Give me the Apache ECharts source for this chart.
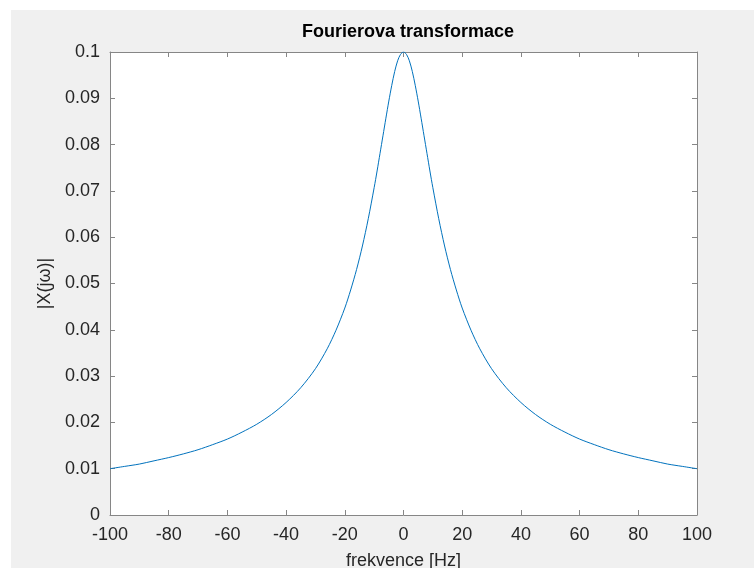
<!DOCTYPE html>
<html>
<head>
<meta charset="utf-8">
<script src="https://cdn.jsdelivr.net/npm/echarts@6/dist/echarts.min.js"></script>
<style>
html,body{margin:0;padding:0;background:#fff;}
#c{width:754px;height:568px;}
</style>
</head>
<body>
<div id="c"></div>
<script>
// frequency [Hz] and |X(jw)|
const freqs = [-100,-95,-90,-85,-80,-75,-70,-65,-60,-55,-50,-45,-40,-35,-30,-26,-23,-20,-18,-16,-14,-12,-10,-9,-8,-7,-6,-5,-4,-3,-2,-1,0,
  1,2,3,4,5,6,7,8,9,10,12,14,16,18,20,23,26,30,35,40,45,50,55,60,65,70,75,80,85,90,95,100];
const magnitude = [0.0100,0.0105,0.0110,0.0117,0.0124,0.0132,0.0141,0.0152,0.0164,0.0179,0.0196,0.0217,0.0243,0.0275,0.0316,0.0359,0.0399,0.0447,0.0486,0.0530,0.0581,0.0640,0.0707,0.0743,0.0781,0.0819,0.0857,0.0894,0.0928,0.0958,0.0981,0.0995,0.1000,
  0.0995,0.0981,0.0958,0.0928,0.0894,0.0857,0.0819,0.0781,0.0743,0.0707,0.0640,0.0581,0.0530,0.0486,0.0447,0.0399,0.0359,0.0316,0.0275,0.0243,0.0217,0.0196,0.0179,0.0164,0.0152,0.0141,0.0132,0.0124,0.0117,0.0110,0.0105,0.0100];
const xTicks = [-100,-80,-60,-40,-20,0,20,40,60,80,100];
const yTicks = [0,0.01,0.02,0.03,0.04,0.05,0.06,0.07,0.08,0.09,0.1];
const titleText = 'Fourierova transformace';
const xName = 'frekvence [Hz]';
const yName = '|X(jω)|';

const FONT = '"Liberation Sans", Arial, Helvetica, sans-serif';
const axisCol = '#868686';
const textCol = '#262626';

const chart = echarts.init(document.getElementById('c'), null, {renderer:'canvas'});
const common = {
  axisLine:{show:true, onZero:false, lineStyle:{color:axisCol, width:1}},
  axisTick:{show:true, inside:true, length:5, lineStyle:{color:axisCol}},
  splitLine:{show:false}
};
chart.setOption({
  backgroundColor:'#ffffff',
  animation:false,
  graphic:[{type:'rect', z:-100, silent:true, shape:{x:11,y:10,width:743,height:558}, style:{fill:'#f0f0f0'}}],
  title:{text:titleText, left:403, top:18, textAlign:'center',
    textStyle:{fontFamily:FONT, fontSize:18, fontWeight:'bold', color:'#000'}},
  grid:{left:110, right:57, top:52, bottom:53, containLabel:false, outerBoundsMode:'none',
    show:true, backgroundColor:'#ffffff', borderWidth:0, z:-50},
  xAxis:[
    Object.assign({type:'value', position:'bottom', min:-100, max:100, interval:20,
      name:xName, nameLocation:'middle', nameGap:37,
      nameTextStyle:{fontFamily:FONT, fontSize:18, color:textCol},
      axisLabel:{fontFamily:FONT, fontSize:18, color:textCol, margin:11,
        formatter:v=>xTicks.includes(v)?String(v):''}}, common),
    Object.assign({type:'value', position:'top', min:-100, max:100, interval:20, axisLabel:{show:false}}, common)
  ],
  yAxis:[
    Object.assign({type:'value', position:'left', min:0, max:0.1, interval:0.01,
      name:yName, nameLocation:'middle', nameGap:55,
      nameTextStyle:{fontFamily:FONT, fontSize:18, color:textCol},
      axisLabel:{fontFamily:FONT, fontSize:18, color:textCol, margin:10,
        formatter:v=>{const t=yTicks.find(x=>Math.abs(x-v)<1e-9); return t===undefined?'':String(+t.toFixed(2));}}}, common),
    Object.assign({type:'value', position:'right', min:0, max:0.1, interval:0.01, axisLabel:{show:false}}, common)
  ],
  series:[{
    type:'line', xAxisIndex:0, yAxisIndex:0,
    data:freqs.map((f,i)=>[f, magnitude[i]]),
    showSymbol:false, smooth:0.3,
    lineStyle:{color:'#0072BD', width:1},
    clip:true
  }]
});
</script>
</body>
</html>
